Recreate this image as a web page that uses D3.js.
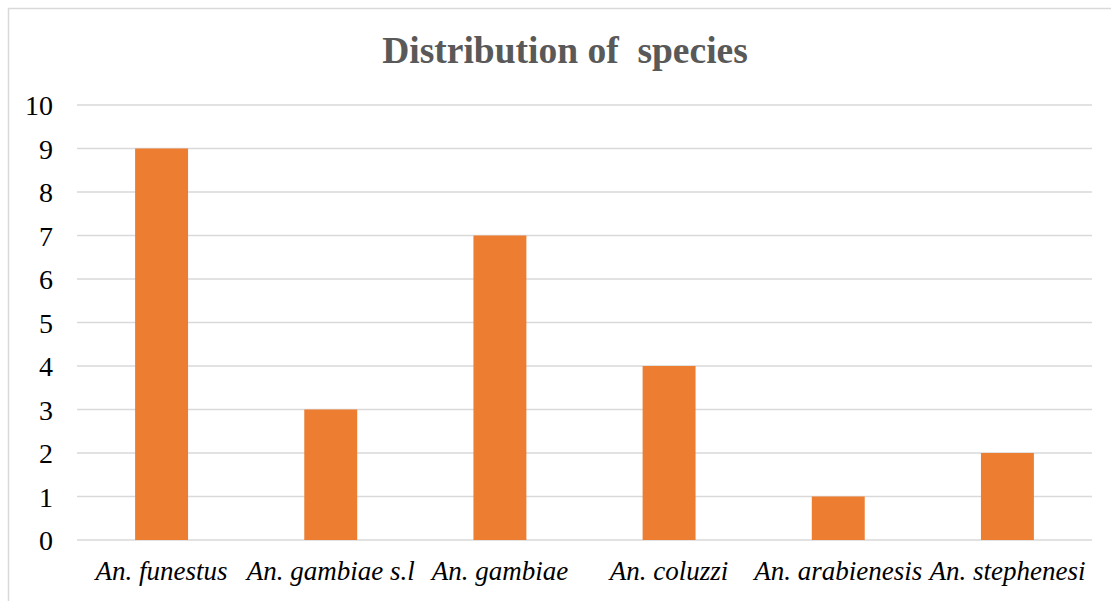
<!DOCTYPE html>
<html>
<head>
<meta charset="utf-8">
<script src="https://cdn.jsdelivr.net/npm/d3@7"></script>
<style>
  html, body { margin: 0; padding: 0; background: #ffffff; }
  #chart { width: 1111px; height: 601px; }
</style>
</head>
<body>
<div id="chart"></div>
<script>
// chart data
const species = ['An. funestus', 'An. gambiae s.l', 'An. gambiae', 'An. coluzzi', 'An. arabienesis', 'An. stephenesi'];
const counts = [9, 3, 7, 4, 1, 2];
const yTicks = [0, 1, 2, 3, 4, 5, 6, 7, 8, 9, 10];
const chartTitle = 'Distribution of  species';

(function () {
  const W = 1111, H = 601;
  const FONT = "'Liberation Serif', 'Times New Roman', Times, serif";
  const plot = { left: 77, right: 1092, top: 105, bottom: 540 };

  const svg = d3.select('#chart').append('svg')
    .attr('width', W)
    .attr('height', H)
    .attr('font-family', FONT);

  svg.append('rect')
    .attr('width', W).attr('height', H)
    .attr('fill', '#ffffff');

  // chart frame (cropped on right and bottom)
  svg.append('rect')
    .attr('x', 8.5).attr('y', 8.5)
    .attr('width', W + 20).attr('height', H + 20)
    .attr('fill', 'none')
    .attr('stroke', '#d9d9d9')
    .attr('stroke-width', 1.5);

  svg.append('text')
    .attr('x', 565)
    .attr('y', 63)
    .attr('text-anchor', 'middle')
    .attr('font-size', 37.5)
    .attr('font-weight', 'bold')
    .attr('fill', '#595959')
    .style('white-space', 'pre')
    .text(chartTitle);

  const x = d3.scaleBand()
    .domain(species)
    .range([plot.left, plot.right])
    .padding(0);

  const y = d3.scaleLinear()
    .domain([0, 10])
    .range([plot.bottom, plot.top]);

  // gridlines
  svg.append('g')
    .selectAll('line')
    .data(yTicks)
    .join('line')
    .attr('x1', plot.left).attr('x2', plot.right)
    .attr('y1', d => y(d)).attr('y2', d => y(d))
    .attr('stroke', '#d9d9d9')
    .attr('stroke-width', 1.5);

  // y tick labels
  svg.append('g')
    .selectAll('text')
    .data(yTicks)
    .join('text')
    .attr('x', 53)
    .attr('y', d => y(d) + 10)
    .attr('text-anchor', 'end')
    .attr('font-size', 28)
    .attr('fill', '#000000')
    .text(d => d);

  const barW = x.bandwidth() * 0.313;

  svg.append('g')
    .selectAll('rect')
    .data(species.map((s, i) => ({ s, v: counts[i] })))
    .join('rect')
    .attr('x', d => x(d.s) + (x.bandwidth() - barW) / 2)
    .attr('y', d => y(d.v))
    .attr('width', barW)
    .attr('height', d => y(0) - y(d.v))
    .attr('fill', '#ed7d31');

  // category labels
  svg.append('g')
    .selectAll('text')
    .data(species)
    .join('text')
    .attr('x', d => x(d) + x.bandwidth() / 2)
    .attr('y', 580)
    .attr('text-anchor', 'middle')
    .attr('font-size', 27)
    .attr('font-style', 'italic')
    .attr('fill', '#000000')
    .text(d => d);
})();
</script>
</body>
</html>
